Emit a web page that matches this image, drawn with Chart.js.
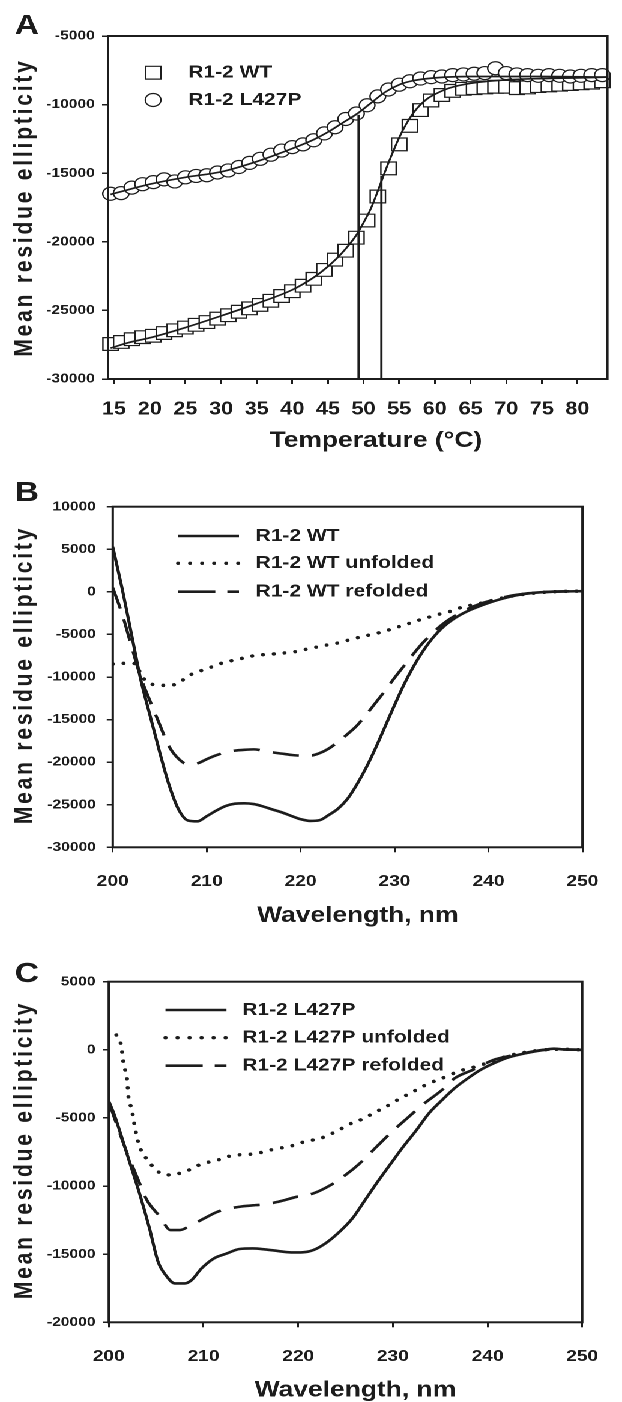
<!DOCTYPE html>
<html>
<head>
<meta charset="utf-8">
<script src="https://cdn.jsdelivr.net/npm/chart.js@4.4.1/dist/chart.umd.min.js"></script>
<style>
  html, body { margin: 0; padding: 0; background: #fff; overflow: hidden; }
  /* the figure is a little wider than tall glyphs suggest, so draw narrow and stretch */
  #wrap { position: absolute; left: 0; top: 0; width: 518px; height: 1402px;
          transform: scaleX(1.2008); transform-origin: 0 0; }
  #wrap canvas { position: absolute; left: 0; }
</style>
</head>
<body>
<div id="wrap">
  <canvas id="panelA" width="518" height="460" style="top:0px;width:518px;height:460px"></canvas>
  <canvas id="panelB" width="518" height="485" style="top:460px;width:518px;height:485px"></canvas>
  <canvas id="panelC" width="518" height="457" style="top:945px;width:518px;height:457px"></canvas>
</div>
<script>
const INK = '#1c1c1c';
const FONT = '"Liberation Sans", Arial, sans-serif';

// ---- Panel A: thermal melts ----
const tempA = [14.5, 16, 17.5, 19, 20.5, 22, 23.5, 25, 26.5, 28, 29.5, 31, 32.5, 34, 35.5, 37, 38.5, 40,
  41.5, 43, 44.5, 46, 47.5, 49, 50.5, 52, 53.5, 55, 56.5, 58, 59.5, 61, 62.5, 64, 65.5, 67, 68.5, 70,
  71.5, 73, 74.5, 76, 77.5, 79, 80.5, 82, 83.5];
const wtA = [-27450, -27300, -27100, -26950, -26850, -26650, -26450, -26250, -26050, -25850,
  -25600, -25350, -25100, -24850, -24600, -24300, -23950, -23600, -23200, -22700,
  -22050, -21300, -20650, -19700, -18450, -16700, -14650, -12900, -11550, -10400,
  -9700, -9300, -9000, -8850, -8800, -8750, -8700, -8700, -8800, -8750,
  -8650, -8600, -8550, -8500, -8450, -8400, -8300];
const mutA = [-16500, -16450, -16050, -15800, -15650, -15450, -15600, -15300, -15200, -15150,
  -14950, -14800, -14550, -14250, -13950, -13650, -13350, -13100, -12900, -12600,
  -12100, -11650, -11050, -10650, -10050, -9400, -8900, -8550, -8300, -8100,
  -8000, -7950, -7850, -7800, -7750, -7700, -7350, -7700, -7800, -7850,
  -7900, -7850, -7900, -7950, -7900, -7850, -7850];
const fitTempWT = [14.5, 17, 20, 25, 30, 35, 40, 43, 45, 47, 49, 50, 51, 52, 53, 54, 55, 56, 57, 58, 59, 60, 62, 65, 70, 75, 80, 84];
const fitWT = [-27750, -27350, -27000, -26250, -25400, -24500, -23500, -22600, -21800, -20800, -19500, -18600,
  -17600, -16300, -14900, -13600, -12400, -11400, -10600, -10000, -9550, -9250, -8800, -8450, -8200, -8100, -8050, -8000];
const fitTempMut = [14.5, 17, 20, 25, 30, 35, 40, 43, 45, 47, 49, 51, 53, 55, 57, 60, 65, 70, 75, 84];
const fitMut = [-16550, -16200, -15800, -15300, -14900, -14150, -13200, -12550, -12000, -11350, -10700,
  -9900, -9100, -8550, -8250, -8050, -7950, -7950, -7950, -8000];
const tmTemps = [49.3, 52.5];
const tmTops = [-10750, -15200];
const tempTicks = [15, 80, 5];

// ---- Panel B: R1-2 WT spectra ----
const wlB = [200, 201, 202, 203, 204, 205, 206, 207, 208, 209, 210, 211, 212, 213, 214, 215, 216, 217, 218, 219,
  220, 221, 222, 223, 224, 225, 226, 227, 228, 229, 230, 231, 232, 233, 234, 235, 236, 237, 238, 239,
  240, 241, 242, 243, 244, 245, 246, 248, 250];
const wtNative = [5300, 400, -5000, -10400, -14650, -18850, -22700, -25550, -26850, -26950, -26350, -25700,
  -25150, -24880, -24830, -24920, -25200, -25560, -25900, -26310, -26700, -26900, -26820, -26200, -25450,
  -24300, -22600, -20600, -18300, -15800, -13300, -10900, -8800, -7000, -5500, -4300, -3400, -2700, -2150,
  -1700, -1300, -950, -650, -400, -220, -100, -20, 50, 80];
const wtRefolded = [500, -2600, -6400, -10100, -12900, -15600, -18170, -19600, -20250, -20150, -19650, -19200,
  -18850, -18650, -18550, -18500, -18650, -18850, -19000, -19150, -19230, -19230, -18950, -18400, -17600,
  -16700, -15700, -14400, -13000, -11600, -10100, -8700, -7300, -6000, -4900, -3900, -3100, -2450, -1900,
  -1450, -1100, -800, -550, -350, -200, -100, -30, 50, 80];
const wlBUnf = [200, 201, 202, 202.5, 203, 203.8, 205, 206, 207, 208, 209, 210, 211, 212, 213, 214, 215, 216,
  217, 218, 219, 220, 221, 222, 223, 224, 225, 226, 227, 228, 229, 230, 231, 232, 233, 234, 235, 236, 237,
  238, 239, 240, 242, 244, 246, 248, 250];
const wtUnfolded = [-8470, -8400, -8390, -8500, -9700, -10700, -10950, -11000, -10700, -9900, -9400, -9050,
  -8600, -8250, -8000, -7750, -7500, -7380, -7300, -7200, -7100, -6900, -6630, -6430, -6200, -6000, -5700,
  -5400, -5150, -4900, -4600, -4250, -3900, -3550, -3180, -2870, -2550, -2270, -1860, -1600, -1380, -1100,
  -600, -250, -50, 50, 80];

// ---- Panel C: R1-2 L427P spectra ----
const wlCNat = [200, 200.6, 201.3, 202.3, 203.3, 204.3, 205.2, 206, 207, 208, 208.75, 209.8, 211.1, 212.5, 213.8,
  215.2, 216.5, 217.9, 219.25, 220.3, 221.6, 223, 224.3, 225.7, 227, 228.4, 229.8, 231.1, 232.5, 233.8, 235.2,
  236.5, 237.9, 239.25, 240.4, 242, 244, 246, 247, 248, 250];
const mutNative = [-3760, -4790, -6260, -8460, -10660, -13110, -15550, -16530, -17150, -17150, -16900, -16040,
  -15310, -14940, -14620, -14580, -14650, -14770, -14870, -14870, -14700, -14150, -13400, -12400, -11100,
  -9680, -8340, -7110, -5890, -4670, -3690, -2830, -2100, -1480, -1070, -600, -250, 0, 80, 30, 0];
const wlCRef = [200, 201, 202, 202.6, 203.2, 204, 205.4, 206.5, 207.5, 208.5, 210, 211.5, 212.8, 214, 215.5, 216.5,
  217.9, 219.9, 221.6, 223.5, 225, 226.5, 228.3, 230.1, 231.5, 233.3, 235.2, 236.5, 238.5, 240.6, 242, 244, 246, 248, 250];
const mutRefolded = [-3800, -5800, -7700, -8700, -9700, -11000, -12250, -13230, -13230, -12950, -12400, -11880,
  -11640, -11500, -11400, -11350, -11150, -10780, -10540, -9900, -9190, -8340, -7100, -5890, -5030, -3950,
  -2950, -2100, -1450, -750, -500, -220, 0, 30, 0];
const wlCUnf = [200.8, 201.3, 201.6, 201.9, 202.1, 202.4, 202.6, 202.8, 203.05, 203.4, 204.1, 205, 206, 207.05,
  208.1, 209.1, 210.3, 211.5, 212.5, 213.5, 214.7, 215.7, 216.7, 217.9, 218.9, 219.9, 220.95, 222.1, 223.15,
  224.2, 225.2, 226.4, 227.6, 228.6, 229.6, 230.8, 231.8, 232.8, 233.8, 235, 236, 237, 238.1, 239.25, 240.4,
  242, 244, 246, 248, 250];
const mutUnfolded = [1085, 350, -1170, -1970, -3560, -4300, -5030, -5840, -6620, -7360, -8090, -8830, -9190,
  -9120, -8950, -8580, -8290, -8090, -7850, -7720, -7680, -7600, -7410, -7240, -7110, -6940, -6670, -6570,
  -6260, -5940, -5520, -5200, -4790, -4420, -4050, -3560, -3200, -2830, -2460, -2150, -1850, -1560, -1360,
  -1120, -870, -480, -180, 0, 40, 0];

const pts = (xs, ys) => xs.map((x, i) => ({ x, y: ys[i] }));

// box, panel letter, axis titles and legend
const panelDecor = {
  id: 'panelDecor',
  afterDraw(chart, args, o) {
    const { ctx, chartArea: a } = chart;
    ctx.save();
    ctx.strokeStyle = INK;
    ctx.fillStyle = INK;
    ctx.lineWidth = 2;
    ctx.strokeRect(a.left, a.top, a.right - a.left, a.bottom - a.top);

    ctx.font = `bold 28px ${FONT}`;
    ctx.textAlign = 'left';
    ctx.textBaseline = 'alphabetic';
    ctx.fillText(o.letter, o.letterX, o.letterY);

    ctx.font = `bold 22px ${FONT}`;
    ctx.textAlign = 'center';
    ctx.textBaseline = 'middle';
    ctx.fillText(o.xTitle, o.xTitleX, o.xTitleY);

    ctx.save();
    ctx.translate(26.5, o.yTitleY);
    ctx.rotate(-Math.PI / 2);
    ctx.font = `bold 21px ${FONT}`;
    ctx.letterSpacing = '2.8px';
    ctx.textAlign = 'center';
    ctx.textBaseline = 'alphabetic';
    ctx.fillText('Mean residue ellipticity', 0, 0);
    ctx.restore();

    ctx.font = `bold 17.5px ${FONT}`;
    ctx.textAlign = 'left';
    ctx.textBaseline = 'middle';
    o.legend.forEach(item => {
      ctx.save();
      if (item.marker) {
        ctx.fillStyle = '#fff';
        ctx.lineWidth = 1.2;
        ctx.beginPath();
        if (item.marker === 'rect') {
          ctx.rect(o.sampleX - 6.4, item.y - 6.4, 12.8, 12.8);
        } else {
          ctx.arc(o.sampleX, item.y, 6.5, 0, Math.PI * 2);
        }
        ctx.fill();
        ctx.stroke();
      } else {
        ctx.lineWidth = item.width;
        ctx.lineCap = item.cap;
        ctx.setLineDash(item.dash);
        ctx.beginPath();
        ctx.moveTo(o.sampleX, item.y);
        ctx.lineTo(o.sampleX2, item.y);
        ctx.stroke();
      }
      ctx.restore();
      ctx.fillText(item.text, o.textX, item.y);
    });
    ctx.restore();
  }
};

const tickFont = size => ({ family: FONT, size, weight: 'bold' });

function axes(p) {
  return {
    x: {
      type: 'linear', min: p.xMin, max: p.xMax,
      afterFit: s => { s.height = p.xHeight; },
      ticks: { stepSize: p.xStep, includeBounds: false, autoSkip: false, maxRotation: 0,
               color: INK, font: tickFont(p.xFont), padding: p.xPad, callback: v => String(v) },
      grid: { drawOnChartArea: false, drawTicks: true, tickLength: 5, color: INK, lineWidth: 1.5 },
      border: { display: false }
    },
    y: {
      type: 'linear', min: p.yMin, max: p.yMax,
      afterFit: s => { s.width = p.yWidth; },
      ticks: { stepSize: 5000, includeBounds: false, autoSkip: false,
               color: INK, font: tickFont(13), padding: p.yPad, callback: v => String(v) },
      grid: { drawOnChartArea: false, drawTicks: true, tickLength: 5, color: INK, lineWidth: 1.5 },
      border: { display: false }
    }
  };
}

function baseOptions(p, decor) {
  return {
    responsive: false,
    devicePixelRatio: 2,
    animation: false,
    layout: { padding: { top: p.padTop, right: p.padRight, left: 0, bottom: 0 } },
    plugins: { legend: { display: false }, tooltip: { enabled: false }, panelDecor: decor },
    scales: axes(p)
  };
}

const lineStyle = (data, kind) => {
  const ds = { data, showLine: true, pointRadius: 0, borderColor: INK, fill: false,
               cubicInterpolationMode: 'monotone', order: 1 };
  if (kind === 'solid') Object.assign(ds, { borderWidth: 2.6 });
  if (kind === 'dot') Object.assign(ds, { borderWidth: 3.4, borderDash: [0.01, 9], borderCapStyle: 'round' });
  if (kind === 'dash') Object.assign(ds, { borderWidth: 2.6, borderDash: [22, 11] });
  return ds;
};

// Panel A
new Chart(document.getElementById('panelA'), {
  type: 'scatter',
  data: {
    datasets: [
      { data: pts(fitTempWT, fitWT), showLine: true, pointRadius: 0, borderColor: INK, borderWidth: 1.7,
        cubicInterpolationMode: 'monotone', order: 1 },
      { data: pts(fitTempMut, fitMut), showLine: true, pointRadius: 0, borderColor: INK, borderWidth: 1.7,
        cubicInterpolationMode: 'monotone', order: 1 },
      ...tmTemps.map((t, i) => ({ data: [{ x: t, y: -30000 }, { x: t, y: tmTops[i] }], showLine: true,
        pointRadius: 0, borderColor: INK, borderWidth: 1.9, order: 1 })),
      { data: pts(tempA, mutA), pointStyle: 'circle', pointRadius: 6.5, backgroundColor: '#fff',
        borderColor: INK, borderWidth: 1.2, clip: false, order: 2 },
      { data: pts(tempA, wtA), pointStyle: 'rect', pointRadius: 9, backgroundColor: '#fff',
        borderColor: INK, borderWidth: 1.2, clip: false, order: 3 }
    ]
  },
  options: baseOptions(
    { xMin: 14.15, xMax: 84.2, xStep: tempTicks[2], xFont: 18, xPad: 14.5, xHeight: 81,
      yMin: -30000, yMax: -5000, yWidth: 90, yPad: 6, padTop: 36, padRight: 12.2 },
    { letter: 'A', letterX: 12.3, letterY: 34, xTitle: 'Temperature (\u00B0C)', xTitleX: 313, xTitleY: 441,
      yTitleY: 207.5, sampleX: 127.5, textX: 156.7,
      legend: [ { marker: 'rect', y: 72.7, text: 'R1-2 WT' }, { marker: 'circle', y: 100, text: 'R1-2 L427P' } ] }
  ),
  plugins: [panelDecor]
});

// Panel B
new Chart(document.getElementById('panelB'), {
  type: 'scatter',
  data: {
    datasets: [
      lineStyle(pts(wlB, wtNative), 'solid'),
      lineStyle(pts(wlBUnf, wtUnfolded), 'dot'),
      lineStyle(pts(wlB, wtRefolded), 'dash')
    ]
  },
  options: baseOptions(
    { xMin: 200, xMax: 250, xStep: 10, xFont: 16, xPad: 19.6, xHeight: 97.7,
      yMin: -30000, yMax: 10000, yWidth: 93.9, yPad: 9, padTop: 46.7, padRight: 15.5 },
    { letter: 'B', letterX: 12.3, letterY: 41, xTitle: 'Wavelength, nm', xTitleX: 298, xTitleY: 456,
      yTitleY: 215, sampleX: 148.3, sampleX2: 199, textX: 212.8,
      legend: [
        { y: 76, text: 'R1-2 WT', width: 2.6, cap: 'butt', dash: [] },
        { y: 103.3, text: 'R1-2 WT unfolded', width: 3.4, cap: 'round', dash: [0.01, 10] },
        { y: 131.7, text: 'R1-2 WT refolded', width: 2.6, cap: 'butt', dash: [31, 10, 11, 100] }
      ] }
  ),
  plugins: [panelDecor]
});

// Panel C
new Chart(document.getElementById('panelC'), {
  type: 'scatter',
  data: {
    datasets: [
      lineStyle(pts(wlCNat, mutNative), 'solid'),
      lineStyle(pts(wlCUnf, mutUnfolded), 'dot'),
      lineStyle(pts(wlCRef, mutRefolded), 'dash')
    ]
  },
  options: baseOptions(
    { xMin: 200, xMax: 250, xStep: 10, xFont: 16, xPad: 19.8, xHeight: 79.7,
      yMin: -20000, yMax: 5000, yWidth: 90.6, yPad: 6, padTop: 36.7, padRight: 17.2 },
    { letter: 'C', letterX: 12.3, letterY: 37, xTitle: 'Wavelength, nm', xTitleX: 296, xTitleY: 445.5,
      yTitleY: 205, sampleX: 137.8, sampleX2: 188.6, textX: 201.7,
      legend: [
        { y: 65, text: 'R1-2 L427P', width: 2.6, cap: 'butt', dash: [] },
        { y: 92.7, text: 'R1-2 L427P unfolded', width: 3.4, cap: 'round', dash: [0.01, 10] },
        { y: 120.7, text: 'R1-2 L427P refolded', width: 2.6, cap: 'butt', dash: [31, 10, 11, 100] }
      ] }
  ),
  plugins: [panelDecor]
});
</script>
</body>
</html>
